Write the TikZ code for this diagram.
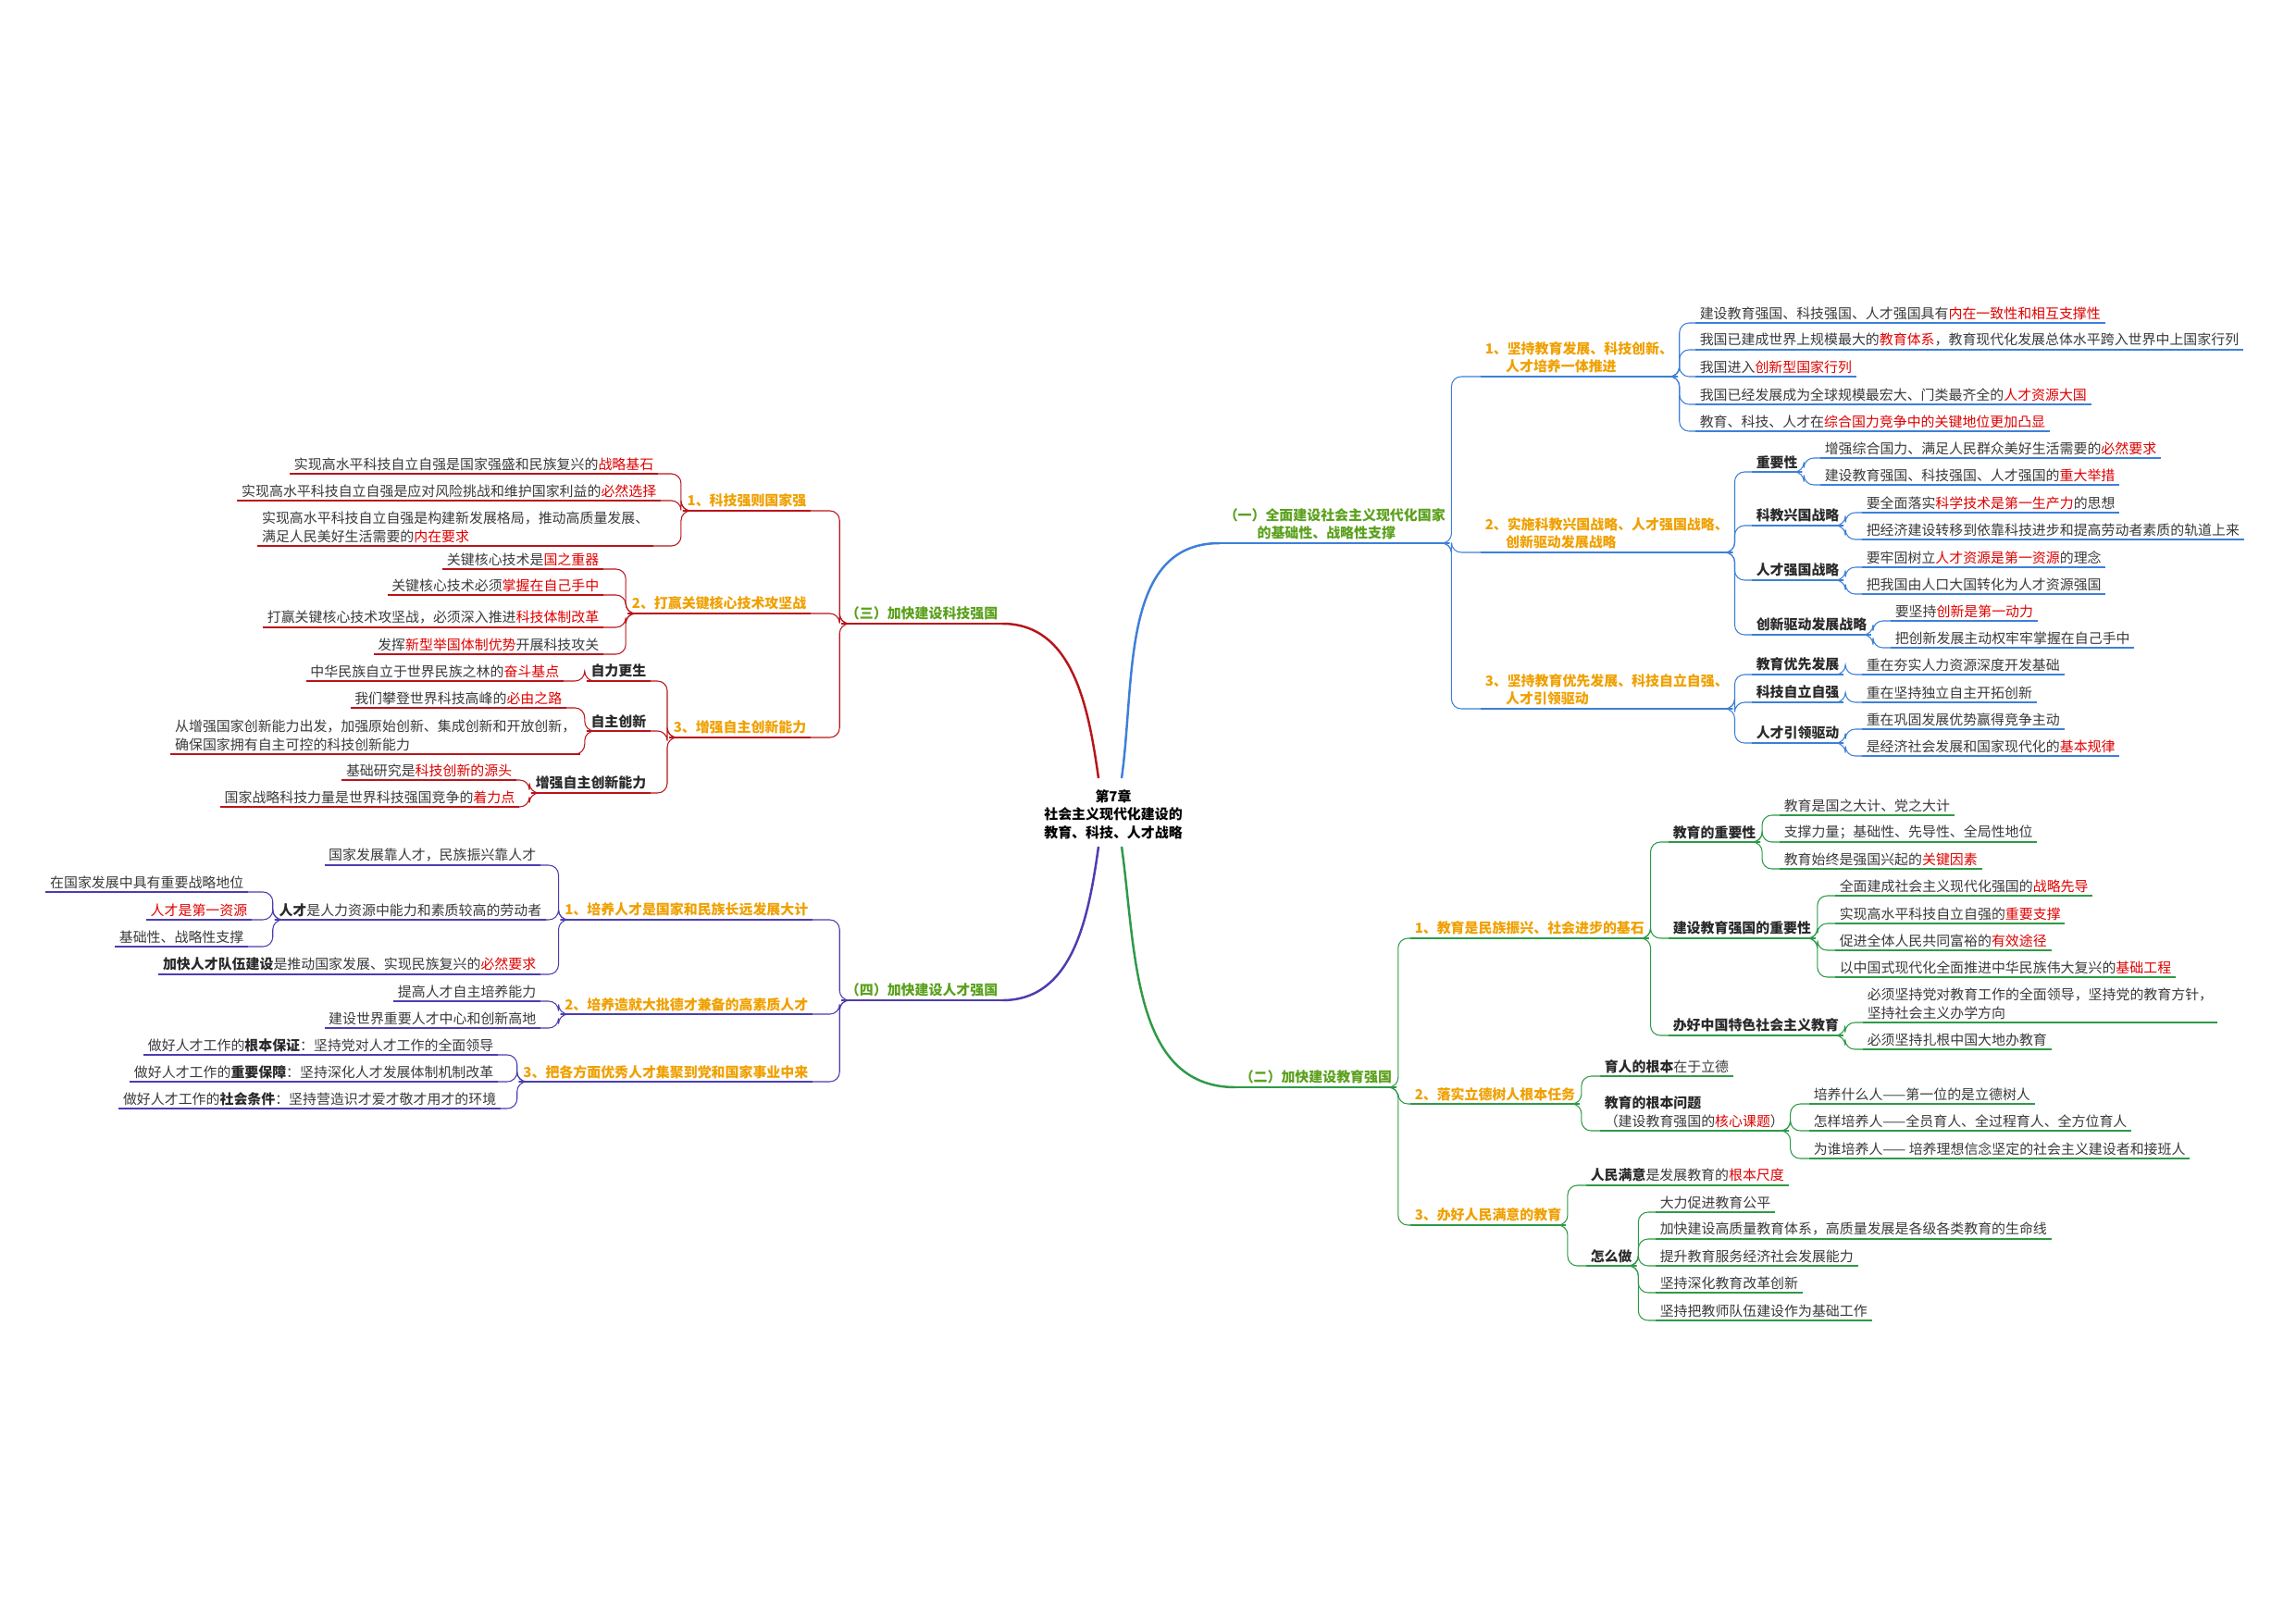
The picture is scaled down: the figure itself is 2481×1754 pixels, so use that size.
\documentclass[tikz,border=0pt]{standalone}
\usepackage{fontspec}
\setmainfont{Noto Sans CJK SC}
\usetikzlibrary{calc}
\definecolor{cblue}{HTML}{3D7FD9}
\definecolor{cgreen}{HTML}{2E9A47}
\definecolor{cred}{HTML}{B8141A}
\definecolor{cpur}{HTML}{4B3DB0}
\definecolor{secg}{HTML}{5BA11D}
\definecolor{org}{HTML}{F0A000}
\definecolor{emph}{HTML}{E00000}
\definecolor{txt}{HTML}{3A3A3A}
\definecolor{dark}{HTML}{2A2A2A}
\newcommand\fs{\fontsize{8.5}{11}\selectfont}
\newcommand\E[1]{\textcolor{emph}{#1}}
\newcommand\conR[3]{\draw[con=#1] (#2.south east) -- ++(2,0) |- (#3.south west);}
\newcommand\conL[3]{\draw[con=#1] (#2.south west) -- ++(-2,0) |- (#3.south east);}
\begin{document}
\begin{tikzpicture}[x=0.02cm,y=-0.02cm,
 every node/.style={font=\fs, inner xsep=2.5pt, inner ysep=1.8pt, text=txt, align=left},
 ulc/.style={append after command={(\tikzlastnode.south west) edge[draw=#1, line width=0.6pt] (\tikzlastnode.south east)}},
 R/.style={anchor=south west, ulc=#1},
 L/.style={anchor=south east, ulc=#1},
 lab/.style={font=\fs\bfseries, text=dark},
 lv/.style={font=\fs\bfseries, text=org},
 sec/.style={font=\fs\bfseries, text=secg},
 con/.style={draw=#1, line width=0.6pt, rounded corners=6pt},
 main/.style={draw=#1, line width=1.4pt},
]
\useasboundingbox (0,0) rectangle (2481,1754);
\fill[white] (0,0) rectangle (2481,1754);

% center
\node[font=\fs\bfseries, text=black, align=center] (ctr) at (1203,880) {第7章\\社会主义现代化建设的\\教育、科技、人才战略};
\coordinate (cr) at (1187,841);
\coordinate (cb) at (1212,841);
\coordinate (cg) at (1212,915);
\coordinate (cp) at (1187,915);

% sections
\node[R=cblue, sec] (s1) at (1318,587) {（一）全面建设社会主义现代化国家\\\hspace*{2.4em}的基础性、战略性支撑};
\node[R=cgreen, sec] (s2) at (1335,1175) {（二）加快建设教育强国};
\node[L=cred, sec] (s3) at (1083,674) {（三）加快建设科技强国};
\node[L=cpur, sec] (s4) at (1083,1081) {（四）加快建设人才强国};
\draw[main=cred] (cr) to[out=98,in=0] (s3.south east);
\draw[main=cblue] (cb) to[out=82,in=180] (s1.south west);
\draw[main=cgreen] (cg) to[out=-82,in=180] (s2.south west);
\draw[main=cpur] (cp) to[out=-98,in=0] (s4.south east);

% ===== BLUE =====
\node[R=cblue, lv] (b1) at (1600,407) {1、坚持教育发展、科技创新、\\\hspace*{1.5em}人才培养一体推进};
\node[R=cblue, lv] (b2) at (1600,597) {2、实施科教兴国战略、人才强国战略、\\\hspace*{1.5em}创新驱动发展战略};
\node[R=cblue, lv] (b3) at (1600,766) {3、坚持教育优先发展、科技自立自强、\\\hspace*{1.5em}人才引领驱动};
\foreach \c in {b1,b2,b3} {\conR{cblue}{s1}{\c}}

\node[R=cblue] (b11) at (1832,349) {建设教育强国、科技强国、人才强国具有\E{内在一致性和相互支撑性}};
\node[R=cblue] (b12) at (1832,378) {我国已建成世界上规模最大的\E{教育体系}，教育现代化发展总体水平跨入世界中上国家行列};
\node[R=cblue] (b13) at (1832,407) {我国进入\E{创新型国家行列}};
\node[R=cblue] (b14) at (1832,437) {我国已经发展成为全球规模最宏大、门类最齐全的\E{人才资源大国}};
\node[R=cblue] (b15) at (1832,466) {教育、科技、人才在\E{综合国力竞争中的关键地位更加凸显}};
\foreach \c in {b11,b12,b13,b14,b15} {\conR{cblue}{b1}{\c}}

\node[R=cblue, lab] (b21) at (1893,510) {重要性};
\node[R=cblue, lab] (b22) at (1893,568) {科教兴国战略};
\node[R=cblue, lab] (b23) at (1893,627) {人才强国战略};
\node[R=cblue, lab] (b24) at (1893,686) {创新驱动发展战略};
\foreach \c in {b21,b22,b23,b24} {\conR{cblue}{b2}{\c}}
\node[R=cblue] (b211) at (1967,495) {增强综合国力、满足人民群众美好生活需要的\E{必然要求}};
\node[R=cblue] (b212) at (1967,524) {建设教育强国、科技强国、人才强国的\E{重大举措}};
\conR{cblue}{b21}{b211}\conR{cblue}{b21}{b212}
\node[R=cblue] (b221) at (2012,554) {要全面落实\E{科学技术是第一生产力}的思想};
\node[R=cblue] (b222) at (2012,583) {把经济建设转移到依靠科技进步和提高劳动者素质的轨道上来};
\conR{cblue}{b22}{b221}\conR{cblue}{b22}{b222}
\node[R=cblue] (b231) at (2012,613) {要牢固树立\E{人才资源是第一资源}的理念};
\node[R=cblue] (b232) at (2012,642) {把我国由人口大国转化为人才资源强国};
\conR{cblue}{b23}{b231}\conR{cblue}{b23}{b232}
\node[R=cblue] (b241) at (2043,671) {要坚持\E{创新是第一动力}};
\node[R=cblue] (b242) at (2043,700) {把创新发展主动权牢牢掌握在自己手中};
\conR{cblue}{b24}{b241}\conR{cblue}{b24}{b242}

\node[R=cblue, lab] (b31) at (1893,729) {教育优先发展};
\node[R=cblue, lab] (b32) at (1893,759) {科技自立自强};
\node[R=cblue, lab] (b33) at (1893,803) {人才引领驱动};
\foreach \c in {b31,b32,b33} {\conR{cblue}{b3}{\c}}
\node[R=cblue] (b311) at (2012,729) {重在夯实人力资源深度开发基础};
\node[R=cblue] (b321) at (2012,759) {重在坚持独立自主开拓创新};
\node[R=cblue] (b331) at (2012,788) {重在巩固发展优势赢得竞争主动};
\node[R=cblue] (b332) at (2012,817) {是经济社会发展和国家现代化的\E{基本规律}};
\conR{cblue}{b31}{b311}\conR{cblue}{b32}{b321}\conR{cblue}{b33}{b331}\conR{cblue}{b33}{b332}

% ===== GREEN =====
\node[R=cgreen, lv] (g1) at (1524,1014) {1、教育是民族振兴、社会进步的基石};
\node[R=cgreen, lv] (g2) at (1524,1193) {2、落实立德树人根本任务};
\node[R=cgreen, lv] (g3) at (1524,1324) {3、办好人民满意的教育};
\foreach \c in {g1,g2,g3} {\conR{cgreen}{s2}{\c}}

\node[R=cgreen, lab] (g11) at (1803,910) {教育的重要性};
\node[R=cgreen, lab] (g12) at (1803,1014) {建设教育强国的重要性};
\node[R=cgreen, lab] (g13) at (1803,1119) {办好中国特色社会主义教育};
\foreach \c in {g11,g12,g13} {\conR{cgreen}{g1}{\c}}
\node[R=cgreen] (g111) at (1923,881) {教育是国之大计、党之大计};
\node[R=cgreen] (g112) at (1923,910) {支撑力量；基础性、先导性、全局性地位};
\node[R=cgreen] (g113) at (1923,939) {教育始终是强国兴起的\E{关键因素}};
\foreach \c in {g111,g112,g113} {\conR{cgreen}{g11}{\c}}
\node[R=cgreen] (g121) at (1983,968) {全面建成社会主义现代化强国的\E{战略先导}};
\node[R=cgreen] (g122) at (1983,998) {实现高水平科技自立自强的\E{重要支撑}};
\node[R=cgreen] (g123) at (1983,1027) {促进全体人民共同富裕的\E{有效途径}};
\node[R=cgreen] (g124) at (1983,1056) {以中国式现代化全面推进中华民族伟大复兴的\E{基础工程}};
\foreach \c in {g121,g122,g123,g124} {\conR{cgreen}{g12}{\c}}
\node[R=cgreen] (g131) at (2013,1105) {必须坚持党对教育工作的全面领导，坚持党的教育方针，\\坚持社会主义办学方向};
\node[R=cgreen] (g132) at (2013,1134) {必须坚持扎根中国大地办教育};
\conR{cgreen}{g13}{g131}\conR{cgreen}{g13}{g132}

\node[R=cgreen] (g21) at (1729,1163) {\textbf{\textcolor{dark}{育人的根本}}在于立德};
\node[R=cgreen] (g22) at (1729,1222) {\textbf{\textcolor{dark}{教育的根本问题}}\\（建设教育强国的\E{核心课题}）};
\conR{cgreen}{g2}{g21}\conR{cgreen}{g2}{g22}
\node[R=cgreen] (g221) at (1955,1193) {培养什么人——第一位的是立德树人};
\node[R=cgreen] (g222) at (1955,1222) {怎样培养人——全员育人、全过程育人、全方位育人};
\node[R=cgreen] (g223) at (1955,1252) {为谁培养人—— 培养理想信念坚定的社会主义建设者和接班人};
\foreach \c in {g221,g222,g223} {\conR{cgreen}{g22}{\c}}

\node[R=cgreen] (g31) at (1714,1281) {\textbf{\textcolor{dark}{人民满意}}是发展教育的\E{根本尺度}};
\node[R=cgreen, lab] (g32) at (1714,1368) {怎么做};
\conR{cgreen}{g3}{g31}\conR{cgreen}{g3}{g32}
\node[R=cgreen] (g321) at (1789,1310) {大力促进教育公平};
\node[R=cgreen] (g322) at (1789,1339) {加快建设高质量教育体系，高质量发展是各级各类教育的生命线};
\node[R=cgreen] (g323) at (1789,1368) {提升教育服务经济社会发展能力};
\node[R=cgreen] (g324) at (1789,1397) {坚持深化教育改革创新};
\node[R=cgreen] (g325) at (1789,1427) {坚持把教师队伍建设作为基础工作};
\foreach \c in {g321,g322,g323,g324,g325} {\conR{cgreen}{g32}{\c}}

% ===== RED =====
\node[L=cred, lv] (r1) at (876,552) {1、科技强则国家强};
\node[L=cred, lv] (r2) at (876,663) {2、打赢关键核心技术攻坚战};
\node[L=cred, lv] (r3) at (876,797) {3、增强自主创新能力};
\foreach \c in {r1,r2,r3} {\conL{cred}{s3}{\c}}
\node[L=cred] (r11) at (711,512) {实现高水平科技自立自强是国家强盛和民族复兴的\E{战略基石}};
\node[L=cred] (r12) at (714,541) {实现高水平科技自立自强是应对风险挑战和维护国家利益的\E{必然选择}};
\node[L=cred] (r13) at (706,590) {实现高水平科技自立自强是构建新发展格局，推动高质量发展、\\满足人民美好生活需要的\E{内在要求}};
\foreach \c in {r11,r12,r13} {\conL{cred}{r1}{\c}}
\node[L=cred] (r21) at (652,615) {关键核心技术是\E{国之重器}};
\node[L=cred] (r22) at (652,643) {关键核心技术必须\E{掌握在自己手中}};
\node[L=cred] (r23) at (652,678) {打赢关键核心技术攻坚战，必须深入推进\E{科技体制改革}};
\node[L=cred] (r24) at (652,707) {发挥\E{新型举国体制优势}开展科技攻关};
\foreach \c in {r21,r22,r23,r24} {\conL{cred}{r2}{\c}}
\node[L=cred, lab] (r31) at (703,736) {自力更生};
\node[L=cred, lab] (r32) at (703,790) {自主创新};
\node[L=cred, lab] (r33) at (703,857) {增强自主创新能力};
\foreach \c in {r31,r32,r33} {\conL{cred}{r3}{\c}}
\node[L=cred] (r311) at (609,736) {中华民族自立于世界民族之林的\E{奋斗基点}};
\conL{cred}{r31}{r311}
\node[L=cred] (r321) at (612,765) {我们攀登世界科技高峰的\E{必由之路}};
\node[L=cred] (r322) at (627,815) {从增强国家创新能力出发，加强原始创新、集成创新和开放创新，\\确保国家拥有自主可控的科技创新能力};
\conL{cred}{r32}{r321}\conL{cred}{r32}{r322}
\node[L=cred] (r331) at (558,843) {基础研究是\E{科技创新的源头}};
\node[L=cred] (r332) at (561,872) {国家战略科技力量是世界科技强国竞争的\E{着力点}};
\conL{cred}{r33}{r331}\conL{cred}{r33}{r332}

% ===== PURPLE =====
\node[L=cpur, lv] (p1) at (878,994) {1、培养人才是国家和民族长远发展大计};
\node[L=cpur, lv] (p2) at (878,1096) {2、培养造就大批德才兼备的高素质人才};
\node[L=cpur, lv] (p3) at (878,1169) {3、把各方面优秀人才集聚到党和国家事业中来};
\foreach \c in {p1,p2,p3} {\conL{cpur}{s4}{\c}}
\node[L=cpur] (p11) at (584,935) {国家发展靠人才，民族振兴靠人才};
\node[L=cpur] (p12) at (590,994) {\textbf{\textcolor{dark}{人才}}是人力资源中能力和素质较高的劳动者};
\node[L=cpur] (p13) at (584,1053) {\textbf{\textcolor{dark}{加快人才队伍建设}}是推动国家发展、实现民族复兴的\E{必然要求}};
\foreach \c in {p11,p12,p13} {\conL{cpur}{p1}{\c}}
\node[L=cpur] (p121) at (268,964) {在国家发展中具有重要战略地位};
\node[L=cpur] (p122) at (272,994) {\E{人才是第一资源}};
\node[L=cpur] (p123) at (268,1023) {基础性、战略性支撑};
\foreach \c in {p121,p122,p123} {\conL{cpur}{p12}{\c}}
\node[L=cpur] (p21) at (584,1082) {提高人才自主培养能力};
\node[L=cpur] (p22) at (584,1111) {建设世界重要人才中心和创新高地};
\conL{cpur}{p2}{p21}\conL{cpur}{p2}{p22}
\node[L=cpur] (p31) at (538,1140) {做好人才工作的\textbf{\textcolor{dark}{根本保证}}：坚持党对人才工作的全面领导};
\node[L=cpur] (p32) at (538,1169) {做好人才工作的\textbf{\textcolor{dark}{重要保障}}：坚持深化人才发展体制机制改革};
\node[L=cpur] (p33) at (541,1198) {做好人才工作的\textbf{\textcolor{dark}{社会条件}}：坚持营造识才爱才敬才用才的环境};
\foreach \c in {p31,p32,p33} {\conL{cpur}{p3}{\c}}
\end{tikzpicture}
\end{document}
